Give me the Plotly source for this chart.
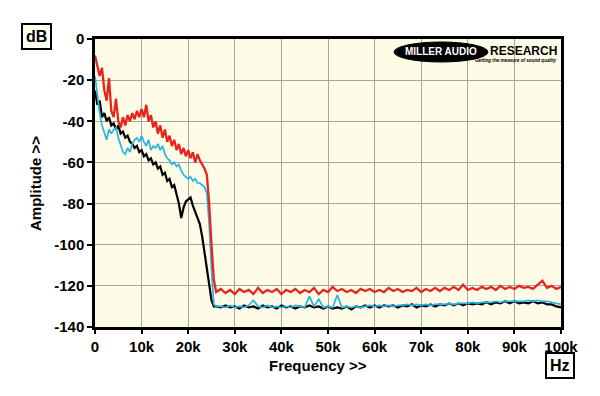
import plotly.graph_objects as go

# Frequency grids (Hz)
freq_low = [i * 500 for i in range(53)]          # 0 .. 26 kHz
freq_high = [k * 1000 for k in range(27, 101)]   # 27 .. 100 kHz

red_low = [-8, -13, -18, -14, -25, -30, -19, -35, -38, -29, -40, -43, -38, -42, -37, -40,
           -36, -39, -35, -38, -34, -38, -32, -40, -37, -43, -40, -46, -42, -48, -44, -50,
           -47, -52, -49, -54, -51, -56, -53, -57, -54, -58, -55, -60, -56, -59, -61, -63,
           -66, -80, -100, -117, -123]
red_high = [-121.5, -123.5, -122, -124, -121.5, -123, -122, -124, -121, -123.5, -122, -123,
            -121.5, -124, -122, -123, -121.5, -123.5, -122, -123, -121, -124, -122, -123,
            -120.5, -122.5, -121.5, -123, -122, -123.5, -121.5, -122.5, -121.5, -123, -122,
            -123, -121, -122.5, -121.5, -123, -122, -122.5, -121, -123, -121.5, -122.5, -121,
            -122.5, -121, -122, -120.5, -122, -119.5, -122, -121, -122, -120.5, -121.5, -120.5,
            -122, -120, -121.5, -120.5, -121.5, -120, -121, -120.5, -121.5, -119.5, -117.5,
            -121, -120, -121.5, -120.5]

black_low = [-25, -32, -30, -38, -36, -40, -38, -42, -41, -44, -42, -46, -45, -48, -47, -50,
             -51, -53, -52, -55, -54, -57, -56, -59, -58, -61, -60, -63, -62, -66, -65, -69,
             -68, -72, -71, -76, -80, -87, -82, -79, -78, -77, -81, -84, -87, -90, -96, -104,
             -112, -120, -127, -130, -130]
black_high = [-130.5, -129.5, -130.5, -130, -131, -129.5, -130.5, -130, -131, -129.5, -130.5,
              -130, -131, -129.5, -130.5, -130, -131, -130, -130.5, -129.5, -130.5, -130, -131,
              -130, -131, -130.5, -131, -130, -131.5, -130, -130.5, -129.5, -130.5, -129.5,
              -130.5, -129.5, -130, -129.5, -130.5, -129.5, -130, -129, -130.5, -129.5, -130,
              -129, -130, -129, -129.5, -128.5, -129.5, -128.5, -129.5, -128.5, -129, -128.5,
              -129, -128, -129, -128, -128.5, -127.5, -128.5, -127.5, -128.5, -128, -128.5,
              -127.5, -128.5, -128, -129, -129, -130, -130.5]

blue_low = [-18, -28, -36, -42, -46, -49, -44, -46, -44, -43, -48, -52, -55, -56, -53, -55,
            -51, -49, -48, -50, -47, -50, -52, -49, -54, -52, -53, -51, -54, -52, -56, -58,
            -59, -61, -60, -62, -61, -64, -66, -67, -68, -67, -69, -68, -70, -70, -71, -72,
            -75, -90, -112, -129, -130]
blue_high = [-130, -130.5, -129.5, -130.5, -130, -130.5, -129.5, -127, -130, -130.5, -129.5,
             -130.5, -130, -130.5, -130, -130.5, -129.5, -130, -130.5, -125, -130, -126.5,
             -130.5, -130, -130.5, -124.5, -130.5, -130, -130.5, -130, -130.5, -130, -129.5,
             -130, -129.5, -130, -129.5, -130, -129.5, -129.5, -129, -129.5, -129, -129.5,
             -129, -129.5, -129, -129, -129, -128.5, -129, -128.5, -128.5, -128.5, -128,
             -128.5, -128, -128, -128, -127.5, -128, -127.5, -127.5, -127.5, -127.5, -127.5,
             -127, -127.5, -127, -127.5, -127.5, -128, -128.5, -129]

x_tick_vals = [0, 10000, 20000, 30000, 40000, 50000, 60000, 70000, 80000, 90000, 100000]
x_tick_text = ["0", "10k", "20k", "30k", "40k", "50k", "60k", "70k", "80k", "90k", "100k"]
y_tick_vals = [0, -20, -40, -60, -80, -100, -120, -140]
y_tick_text = ["0", "-20", "-40", "-60", "-80", "-100", "-120", "-140"]

freq = freq_low + freq_high
fig = go.Figure()
fig.add_trace(go.Scatter(x=freq, y=black_low + black_high, mode="lines",
                         line=dict(color="#000000", width=2.2)))
fig.add_trace(go.Scatter(x=freq, y=blue_low + blue_high, mode="lines",
                         line=dict(color="#27B4E6", width=1.7)))
fig.add_trace(go.Scatter(x=freq, y=red_low + red_high, mode="lines",
                         line=dict(color="#E6261C", width=2.3)))

FONT = "Liberation Sans, Arial, sans-serif"
fig.update_layout(
    width=600, height=396,
    margin=dict(l=87, r=47, t=31, b=77),
    paper_bgcolor="white",
    plot_bgcolor="#FEFBE6",
    showlegend=False,
    font=dict(family=FONT, size=15, color="black"),
)
fig.update_xaxes(range=[0, 100000], tickvals=x_tick_vals,
                 ticktext=["<b>%s</b>" % t for t in x_tick_text],
                 showgrid=True, gridcolor="#A4A4A4", gridwidth=1.4,
                 showline=True, linecolor="black", linewidth=2.5, mirror=True,
                 ticks="outside", ticklen=4, tickwidth=1.5, tickcolor="black",
                 tickfont=dict(family=FONT, size=15, color="black"),
                 zeroline=False)
fig.update_yaxes(range=[-140, 0], tickvals=y_tick_vals,
                 ticktext=["<b>%s</b>" % t for t in y_tick_text],
                 showgrid=True, gridcolor="#A4A4A4", gridwidth=1.4,
                 showline=True, linecolor="black", linewidth=2.5, mirror=True,
                 ticks="outside", ticklen=5, tickwidth=1.5, tickcolor="black",
                 tickfont=dict(family=FONT, size=15, color="black"),
                 zeroline=False)

# Axis titles and unit boxes
fig.add_annotation(text="<b>Frequency >></b>", xref="paper", yref="paper", x=0.4785, y=-0.135,
                   showarrow=False, font=dict(family=FONT, size=15), xanchor="center", yanchor="middle")
fig.add_annotation(text="<b>Amplitude >></b>", xref="paper", yref="paper", x=-0.1288, y=0.5,
                   showarrow=False, textangle=-90, font=dict(family=FONT, size=15),
                   xanchor="center", yanchor="middle")
fig.add_annotation(text="<b>dB</b>", xref="paper", yref="paper", x=-0.1245, y=1.0087,
                   showarrow=False, font=dict(family=FONT, size=16), xanchor="center", yanchor="middle",
                   bgcolor="#FFFFF2", bordercolor="black", borderwidth=2, borderpad=3)
fig.add_annotation(text="<b>Hz</b>", xref="paper", yref="paper", x=0.9979, y=-0.1354,
                   showarrow=False, font=dict(family=FONT, size=16), xanchor="center", yanchor="middle",
                   bgcolor="#FFFFFF", bordercolor="black", borderwidth=2, borderpad=3)

# Logo
fig.add_shape(type="circle", xref="paper", yref="paper", x0=0.6416, x1=0.8433, y0=0.9201, y1=0.9896,
              fillcolor="black", line=dict(color="black", width=1))
fig.add_annotation(text="<b>MILLER AUDIO</b>", xref="paper", yref="paper", x=0.7425, y=0.9549,
                   showarrow=False, font=dict(family=FONT, size=10, color="white"),
                   xanchor="center", yanchor="middle")
fig.add_annotation(text="<b>RESEARCH</b>", xref="paper", yref="paper", x=0.9957, y=0.9575,
                   showarrow=False, font=dict(family=FONT, size=12, color="black"),
                   xanchor="right", yanchor="middle")
fig.add_annotation(text="<b><i>Getting the measure of sound quality</i></b>", xref="paper", yref="paper",
                   x=0.9957, y=0.926, showarrow=False, font=dict(family=FONT, size=4.6, color="black"),
                   xanchor="right", yanchor="middle")

fig.write_html("out.html")
